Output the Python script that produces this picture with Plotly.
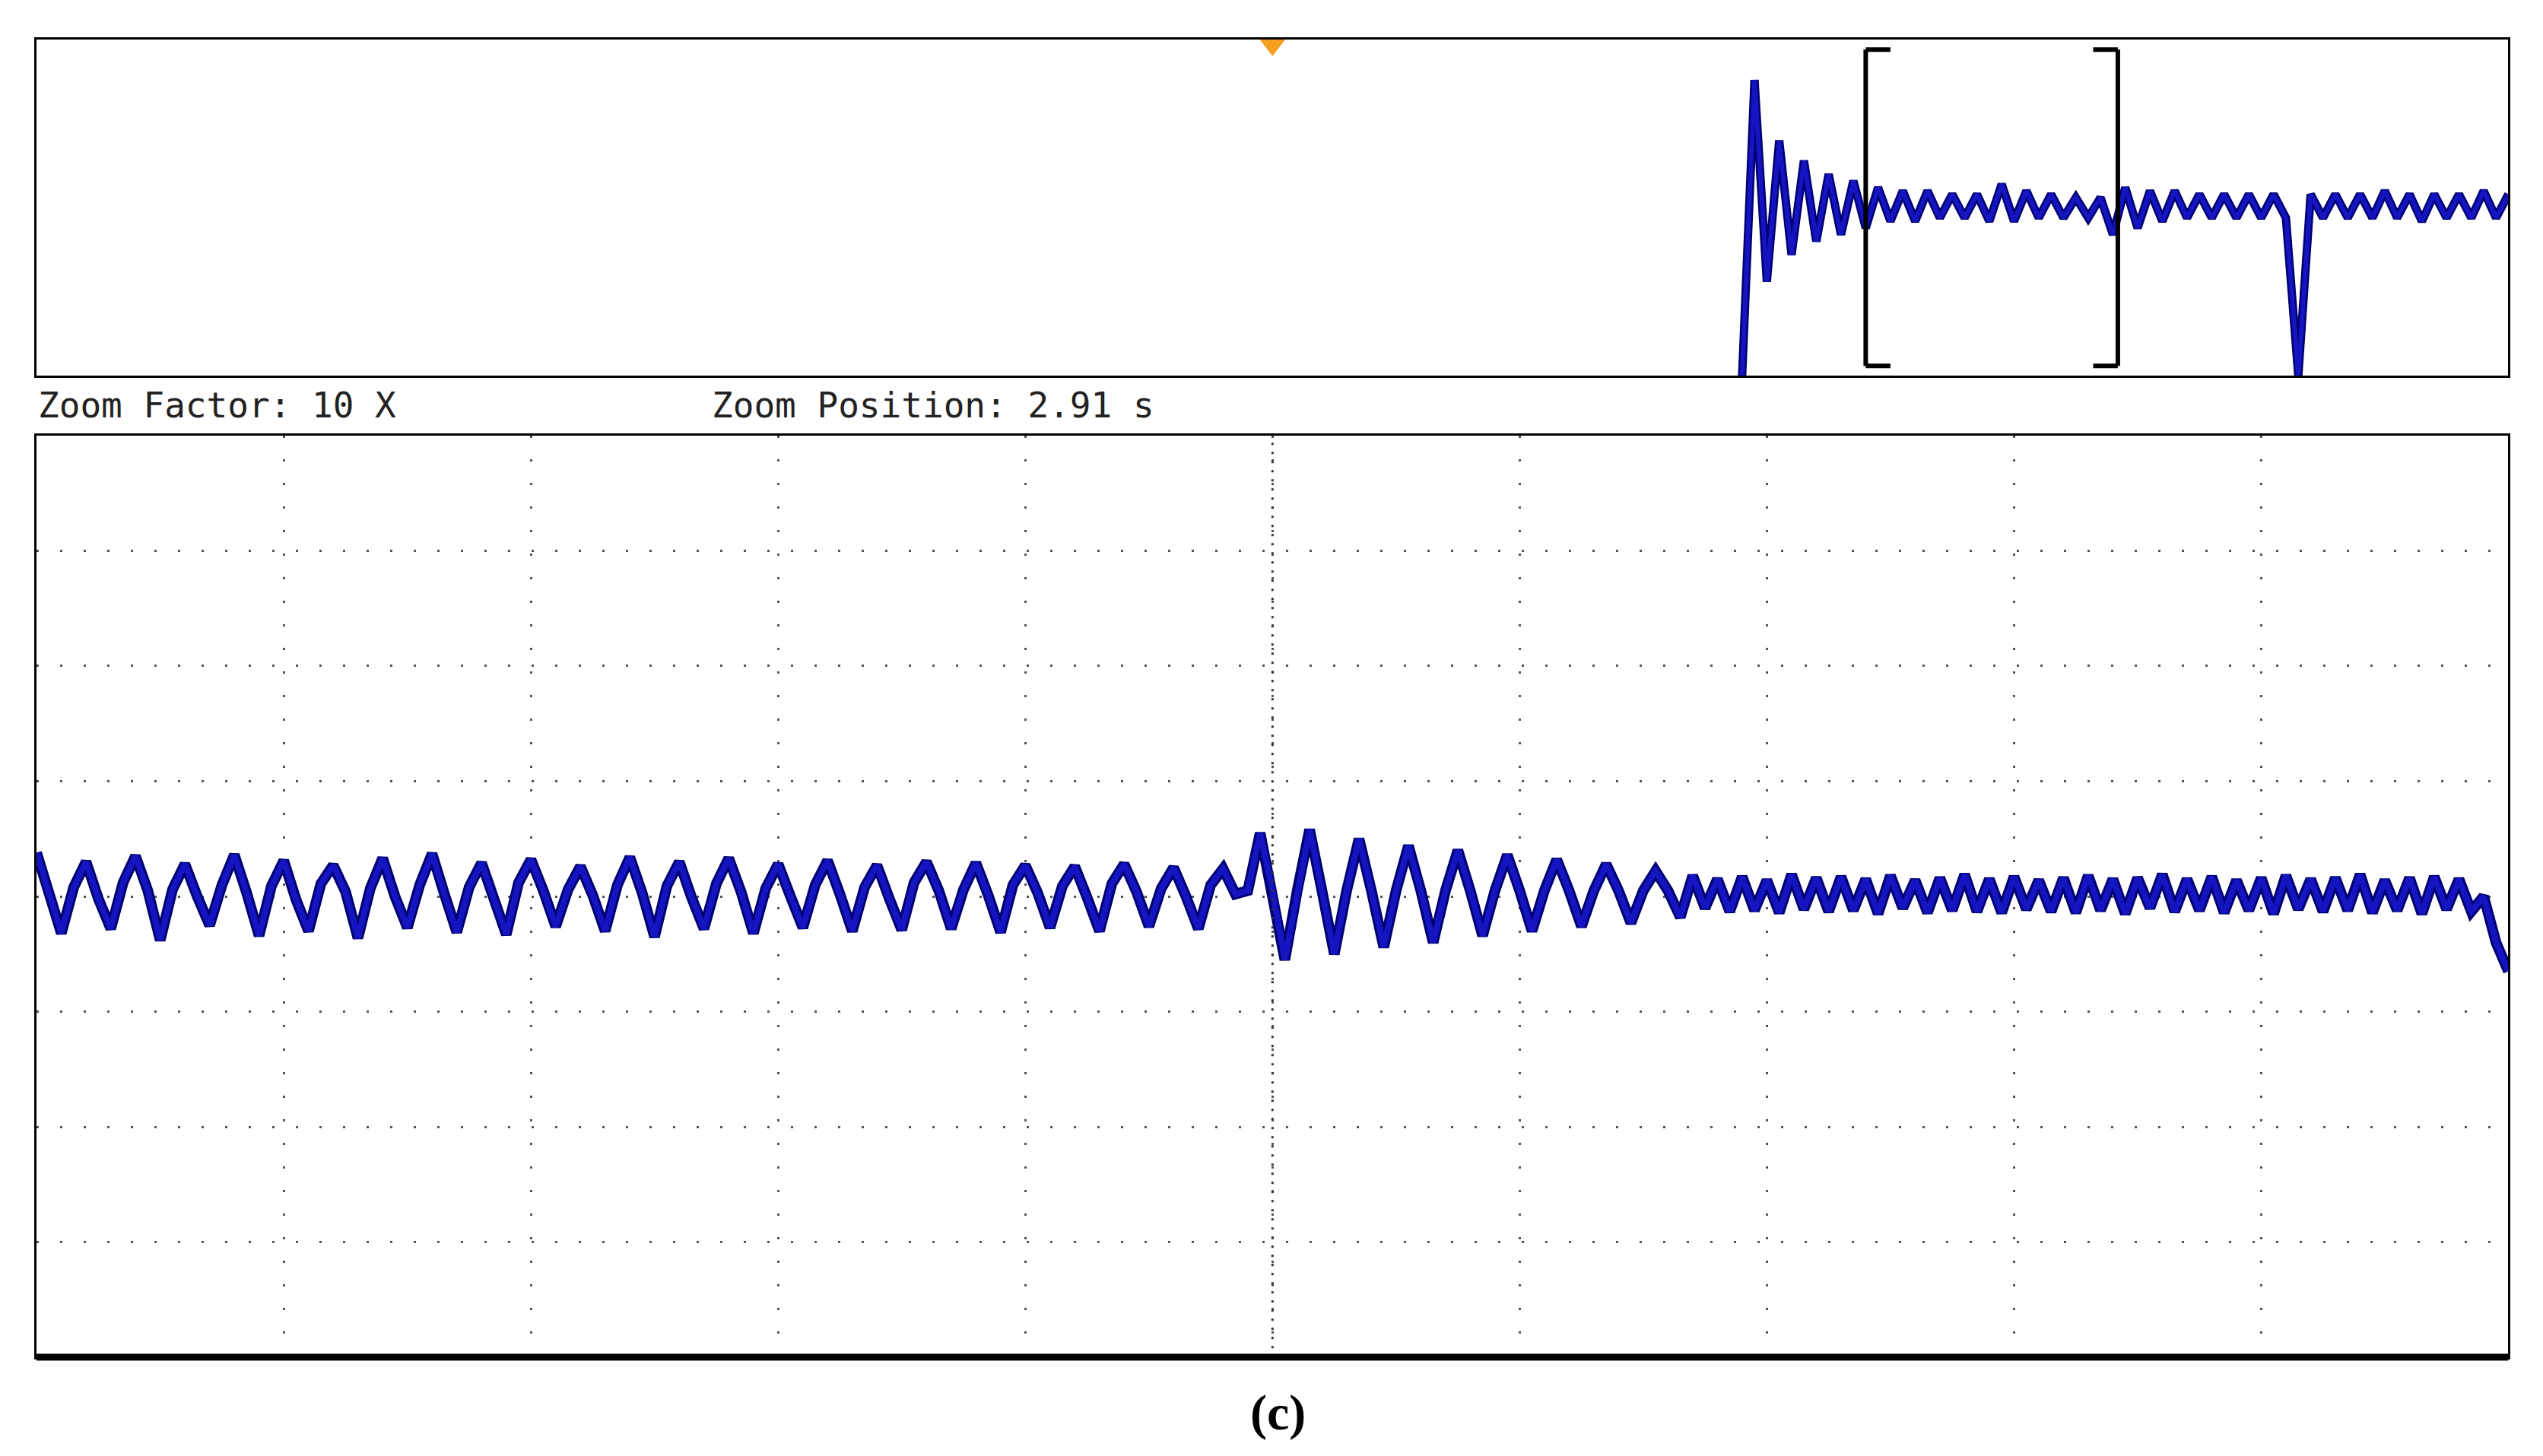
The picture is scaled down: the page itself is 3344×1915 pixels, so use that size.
import numpy as np
import plotly.graph_objects as go

# overview trace (top panel), fraction of panel height, sampled every 0.05 div from 6.9 div
top_vals = [0.00, 0.88, 0.28, 0.70, 0.36, 0.64, 0.40, 0.60, 0.42, 0.58,
            0.44, 0.56, 0.46, 0.55, 0.46, 0.55, 0.47, 0.54, 0.47, 0.54,
            0.46, 0.57, 0.46, 0.55, 0.47, 0.54, 0.47, 0.53, 0.47, 0.53,
            0.42, 0.56, 0.44, 0.55, 0.46, 0.55, 0.47, 0.54, 0.47, 0.54,
            0.47, 0.54, 0.47, 0.54, 0.47, 0.00, 0.54, 0.47, 0.54, 0.47,
            0.54, 0.47, 0.55, 0.47, 0.54, 0.46, 0.54, 0.47, 0.54, 0.47,
            0.55, 0.47, 0.54]
top_t = np.round(np.arange(len(top_vals)) * 0.05 + 6.9, 3)

# zoomed trace (bottom panel), divisions from centre, sampled every 0.05 div
bot_a = [0.38, 0.02, -0.32, 0.08, 0.30, -0.02, -0.28, 0.12, 0.35, 0.05, -0.38, 0.06,
         0.28, 0.00, -0.25, 0.10, 0.36, 0.03, -0.34, 0.09, 0.31, -0.03, -0.30, 0.11,
         0.27, 0.04, -0.36, 0.07, 0.33, 0.00, -0.27, 0.10, 0.37, 0.02, -0.31, 0.08,
         0.29, -0.02, -0.33, 0.12, 0.32, 0.05, -0.26, 0.06, 0.26, 0.01, -0.30, 0.10,
         0.34, 0.03, -0.35, 0.09, 0.30, -0.01, -0.28, 0.11, 0.33, 0.04, -0.32, 0.07,
         0.28, 0.00, -0.27, 0.10, 0.31, 0.02, -0.30, 0.08, 0.27, -0.02, -0.29, 0.12,
         0.30, 0.05, -0.28, 0.06, 0.29, 0.01, -0.31, 0.10, 0.27, 0.03, -0.27, 0.09,
         0.26, -0.01, -0.30, 0.11, 0.28, 0.04, -0.26, 0.07, 0.25, 0.00, -0.28, 0.10,
         0.24, 0.02]
bot_b = [0.05, 0.55, 0.05, -0.55, 0.05, 0.58, 0.05, -0.50, 0.05, 0.50, 0.05, -0.44,
         0.05, 0.44, 0.05, -0.40, 0.05, 0.40, 0.05, -0.34, 0.05, 0.36, 0.05, -0.30,
         0.05, 0.32, 0.05, -0.26, 0.05, 0.28, 0.05, -0.23, 0.05, 0.22, 0.05, -0.18]
bot_c = [0.18, -0.10, 0.15, -0.13, 0.17, -0.12, 0.14, -0.14, 0.19, -0.11, 0.16, -0.13,
         0.17, -0.12, 0.15, -0.15, 0.18, -0.10, 0.14, -0.14, 0.16, -0.12, 0.19, -0.13,
         0.15, -0.14, 0.17, -0.11, 0.14, -0.13, 0.16, -0.14, 0.18, -0.12, 0.15, -0.15,
         0.16, -0.10, 0.19, -0.13, 0.15, -0.12, 0.17, -0.14, 0.14, -0.12, 0.16, -0.15,
         0.18, -0.11, 0.15, -0.13, 0.16, -0.12, 0.19, -0.14, 0.14, -0.12, 0.16, -0.15,
         0.17, -0.11, 0.15, -0.13]
bot_d = [0.00, -0.40, -0.65]
bot_vals = bot_a + bot_b + bot_c + bot_d
bot_t = np.round(np.arange(len(bot_vals)) * 0.05, 3)

blue = "#1414c0"
navy = "#000070"
fig = go.Figure()
fig.add_trace(go.Scatter(x=top_t, y=top_vals, mode="lines", line=dict(color=navy, width=11),
                         xaxis="x", yaxis="y", showlegend=False))
fig.add_trace(go.Scatter(x=top_t, y=top_vals, mode="lines", line=dict(color=blue, width=6),
                         xaxis="x", yaxis="y", showlegend=False))
fig.add_trace(go.Scatter(x=[5.0], y=[0.985], mode="markers",
                         marker=dict(symbol="triangle-down", size=30, color="#f5a020"),
                         xaxis="x", yaxis="y", cliponaxis=False, showlegend=False))
fig.add_trace(go.Scatter(x=bot_t, y=bot_vals, mode="lines", line=dict(color=navy, width=14),
                         xaxis="x2", yaxis="y2", showlegend=False))
fig.add_trace(go.Scatter(x=bot_t, y=bot_vals, mode="lines", line=dict(color=blue, width=8),
                         xaxis="x2", yaxis="y2", showlegend=False))

frame = dict(showline=True, linecolor="black", linewidth=3, mirror=True,
             zeroline=False, showticklabels=False, ticks="")
fig.update_layout(
    width=3344, height=1915, margin=dict(l=0, r=0, t=0, b=0),
    paper_bgcolor="white", plot_bgcolor="white",
    xaxis=dict(domain=[0.012, 0.984], range=[0, 10], showgrid=False, **frame),
    yaxis=dict(domain=[0.746, 0.977], range=[0, 1], showgrid=False, **frame),
    xaxis2=dict(domain=[0.012, 0.984], range=[0, 10], anchor="y2", dtick=1,
                showgrid=True, gridcolor="#555", gridwidth=3, griddash="3px,28px", **frame),
    yaxis2=dict(domain=[0.072, 0.705], range=[-4, 4], anchor="x2", dtick=1,
                showgrid=True, gridcolor="#555", gridwidth=3, griddash="3px,28px", **frame),
)

shapes = []
# brackets in the overview
for xb, d in [(7.4, 1), (8.42, -1)]:
    shapes.append(dict(type="line", xref="x", yref="y", x0=xb, x1=xb, y0=0.03, y1=0.97,
                       line=dict(color="black", width=6)))
    for yb in (0.03, 0.97):
        shapes.append(dict(type="line", xref="x", yref="y", x0=xb, x1=xb + d * 0.1,
                           y0=yb, y1=yb, line=dict(color="black", width=6)))
# centre vertical axis with dense dots
shapes.append(dict(type="line", xref="x2", yref="y2", x0=5, x1=5, y0=-4, y1=4,
                   line=dict(color="#333", width=3, dash="3px,9px")))
# thick bottom edge
shapes.append(dict(type="line", xref="x2 domain", yref="y2 domain", x0=0, x1=1, y0=0, y1=0,
                   line=dict(color="black", width=9)))
fig.update_layout(shapes=shapes)

mono = dict(family="DejaVu Sans Mono", size=46, color="#222")
fig.add_annotation(text="Zoom Factor: 10 X", xref="paper", yref="paper", x=0.012, y=0.726,
                   xanchor="left", yanchor="middle", showarrow=False, font=mono)
fig.add_annotation(text="Zoom Position: 2.91 s", xref="paper", yref="paper", x=0.277, y=0.726,
                   xanchor="left", yanchor="middle", showarrow=False, font=mono)
fig.add_annotation(text="<b>(c)</b>", xref="paper", yref="paper", x=0.5, y=0.034,
                   xanchor="center", yanchor="middle", showarrow=False,
                   font=dict(family="Liberation Serif", size=66, color="black"))

fig.write_html("out.html")
